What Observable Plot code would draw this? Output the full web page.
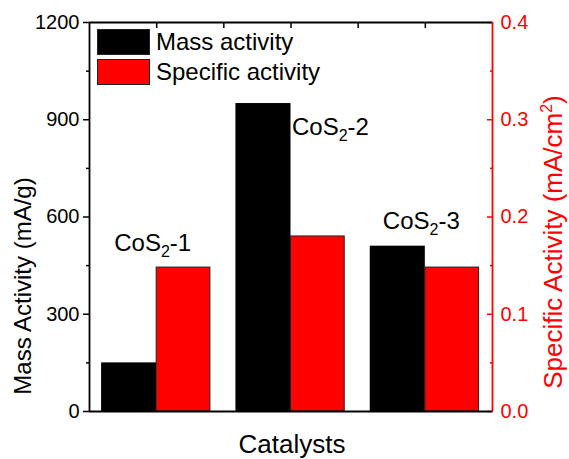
<!DOCTYPE html>
<html><head><meta charset="utf-8">
<script src="https://cdn.jsdelivr.net/npm/d3@7"></script>
<script src="https://cdn.jsdelivr.net/npm/@observablehq/plot@0.6"></script>
<style>
body{margin:0;background:#fff;}
#wrap{position:relative;width:569px;height:459px;font-family:"Liberation Sans",Arial,sans-serif;}
#wrap svg{display:block;}
.lg{position:absolute;left:97px;display:flex;align-items:center;font-size:24px;color:#000;}
.sw{width:53px;height:26px;margin-right:6px;box-sizing:border-box;}
</style></head>
<body><div id="wrap"></div>
<script>
const catalysts = ["CoS2-1", "CoS2-2", "CoS2-3"];
const massActivity = [150, 950, 510];          // mA/g (left axis)
const specificActivity = [0.148, 0.180, 0.148]; // mA/cm2 (right axis)
const seriesNames = ["Mass activity", "Specific activity"];
const seriesColors = ["#000000", "#ff0000"];
const leftTicks = [0, 300, 600, 900, 1200];
const leftMinor = [150, 450, 750, 1050];
const rightTicks = [0, 0.1, 0.2, 0.3, 0.4];
const rightMinor = [0.05, 0.15, 0.25, 0.35];
const topTicks = [1, 1.5, 2, 2.5, 3];

const ratio = 1200 / 0.4;
const rows = catalysts.map((c, i) => ({
  cat: c, pos: i + 1, mass: massActivity[i], spec: specificActivity[i],
  specScaled: specificActivity[i] * ratio,
  top: Math.max(massActivity[i], specificActivity[i] * ratio)
}));

const font = "'Liberation Sans', Arial, sans-serif";
const blank = () => "";
const chart = Plot.plot({
  width: 569, height: 459,
  marginLeft: 89, marginRight: 77, marginTop: 22, marginBottom: 48,
  x: {domain: [0.5, 3.5], axis: null},
  y: {domain: [0, 1200], axis: null},
  style: {fontFamily: font, fontSize: "20px", background: "white", color: "black", overflow: "visible"},
  marks: [
    Plot.rect(rows, {x1: d => d.pos - 0.41, x2: "pos", y1: 0, y2: "mass", fill: seriesColors[0]}),
    Plot.rect(rows, {x1: "pos", x2: d => d.pos + 0.40, y1: 0, y2: "specScaled", fill: seriesColors[1], stroke: "#222", strokeWidth: 1}),
    Plot.axisY(leftTicks, {anchor: "left", tickSize: 6, tickPadding: 4, tickFormat: d => String(d), label: null, fontSize: 20, strokeWidth: 1.5}),
    Plot.axisY(leftMinor, {anchor: "left", tickSize: 3, tickFormat: blank, label: null, strokeWidth: 1.5}),
    Plot.axisY(rightTicks.map(v => v * ratio), {anchor: "right", tickSize: -6, tickPadding: 14, tickFormat: d => (d / ratio).toFixed(1), label: null, color: "red", fontSize: 20, strokeWidth: 1.5}),
    Plot.axisY(rightMinor.map(v => v * ratio), {anchor: "right", tickSize: -3, tickFormat: blank, label: null, color: "red", strokeWidth: 1.5}),
    Plot.axisX(topTicks, {anchor: "top", tickSize: -5, tickFormat: blank, label: null, strokeWidth: 1.5}),
    Plot.ruleY([0], {stroke: "black", strokeWidth: 1.8}),
    Plot.ruleY([1200], {stroke: "black", strokeWidth: 1.8}),
    Plot.ruleX([0.5], {stroke: "black", strokeWidth: 1.8}),
    Plot.ruleX([3.5], {stroke: "red", strokeWidth: 1.8}),
    Plot.text(rows.filter((d, i) => i !== 1), {x: "pos", y: "top", text: "cat", dx: -4, dy: -17, lineAnchor: "bottom", fontSize: 24, className: "cos-label"}),
    Plot.text(rows.filter((d, i) => i === 1), {x: "pos", y: "mass", text: "cat", dx: 1, dy: 31, textAnchor: "start", lineAnchor: "bottom", fontSize: 24, className: "cos-label"})
  ]
});

const wrap = document.getElementById("wrap");
wrap.appendChild(chart);

// subscript formatting for labels
d3.select(chart).selectAll(".cos-label text").each(function() {
  const t = this.textContent;
  const m = t.match(/^CoS2(.*)$/);
  if (!m) return;
  const sel = d3.select(this);
  sel.text(null);
  sel.append("tspan").text("CoS");
  sel.append("tspan").attr("dy", 6).attr("font-size", 16).text("2");
  sel.append("tspan").attr("dy", -6).text(m[1]);
});

// axis titles
const svg = d3.select(chart);
svg.append("text").attr("transform", "translate(31,286) rotate(-90)").attr("text-anchor", "middle")
  .attr("font-size", 24).attr("fill", "black").text("Mass Activity (mA/g)");
const rt = svg.append("text").attr("transform", "translate(562,242) rotate(-90)").attr("text-anchor", "middle")
  .attr("font-size", 26).attr("fill", "red");
rt.append("tspan").text("Specific Activity (mA/cm");
rt.append("tspan").attr("dy", -10).attr("font-size", 16).text("2");
rt.append("tspan").attr("dy", 10).text(")");
svg.append("text").attr("x", 292).attr("y", 453).attr("text-anchor", "middle")
  .attr("font-size", 26).attr("fill", "black").text("Catalysts");

// legend
seriesNames.forEach((name, i) => {
  const row = document.createElement("div");
  row.className = "lg";
  row.style.top = (28 + i * 30) + "px";
  const sw = document.createElement("div");
  sw.className = "sw";
  sw.style.background = seriesColors[i];
  sw.style.border = "1px solid #222";
  const lab = document.createElement("span");
  lab.textContent = name;
  row.appendChild(sw); row.appendChild(lab);
  wrap.appendChild(row);
});
</script>
</body></html>
